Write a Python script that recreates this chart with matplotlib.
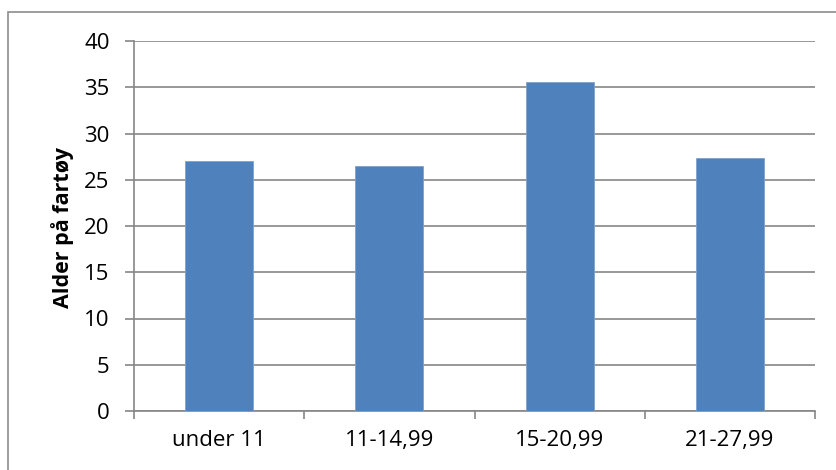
import matplotlib
matplotlib.use("Agg")
import matplotlib.pyplot as plt
from matplotlib.patches import Rectangle
import numpy as np

categories = ["under 11", "11-14,99", "15-20,99", "21-27,99"]
values = [27.0, 26.5, 35.6, 27.4]
yticks = [0, 5, 10, 15, 20, 25, 30, 35, 40]
ylabel = "Alder på fartøy"

plt.rcParams['font.family'] = ['Open Sans', 'DejaVu Sans']

fig = plt.figure(figsize=(8.36, 4.70), dpi=100)
ax = fig.add_axes([134/836, 1-411/470, (815-134)/836, (411-41)/470])

x = np.arange(len(categories))
ax.bar(x, values, width=0.4, color='#4F81BD', edgecolor='#7DA2CE', linewidth=0.6, zorder=3)

ax.set_xlim(-0.5, len(categories) - 0.5)
ax.set_ylim(0, 40)
ax.set_yticks(yticks)
ax.set_yticklabels([str(v) for v in yticks])
ax.yaxis.grid(True, color='#868686', linewidth=1.2, zorder=0)
ax.set_axisbelow(True)

ax.set_xticks(x)
ax.set_xticklabels(categories)
ax.set_xticks(np.arange(-0.5, len(categories)), minor=True)
ax.tick_params(axis='x', which='major', length=0, pad=14, labelsize=16, colors='black')
ax.tick_params(axis='x', which='minor', length=6, width=1.2, color='#868686', direction='out')
ax.tick_params(axis='y', length=6.5, width=1.2, color='#868686', pad=11, labelsize=16)

for s in ['top', 'right']:
    ax.spines[s].set_visible(False)
for s in ['left', 'bottom']:
    ax.spines[s].set_color('#868686')
    ax.spines[s].set_linewidth(1.2)

fig.text(63/836, 1-227/470, ylabel, rotation=90, ha='center', va='center',
         fontsize=15.5, fontweight='bold')

border = Rectangle((8/836, -0.1), 1.2, 1 - 12/470 + 0.1, transform=fig.transFigure,
                   fill=False, edgecolor='#8C8C8C', linewidth=1.2)
fig.patches.append(border)

fig.savefig("out.png", dpi=100)
